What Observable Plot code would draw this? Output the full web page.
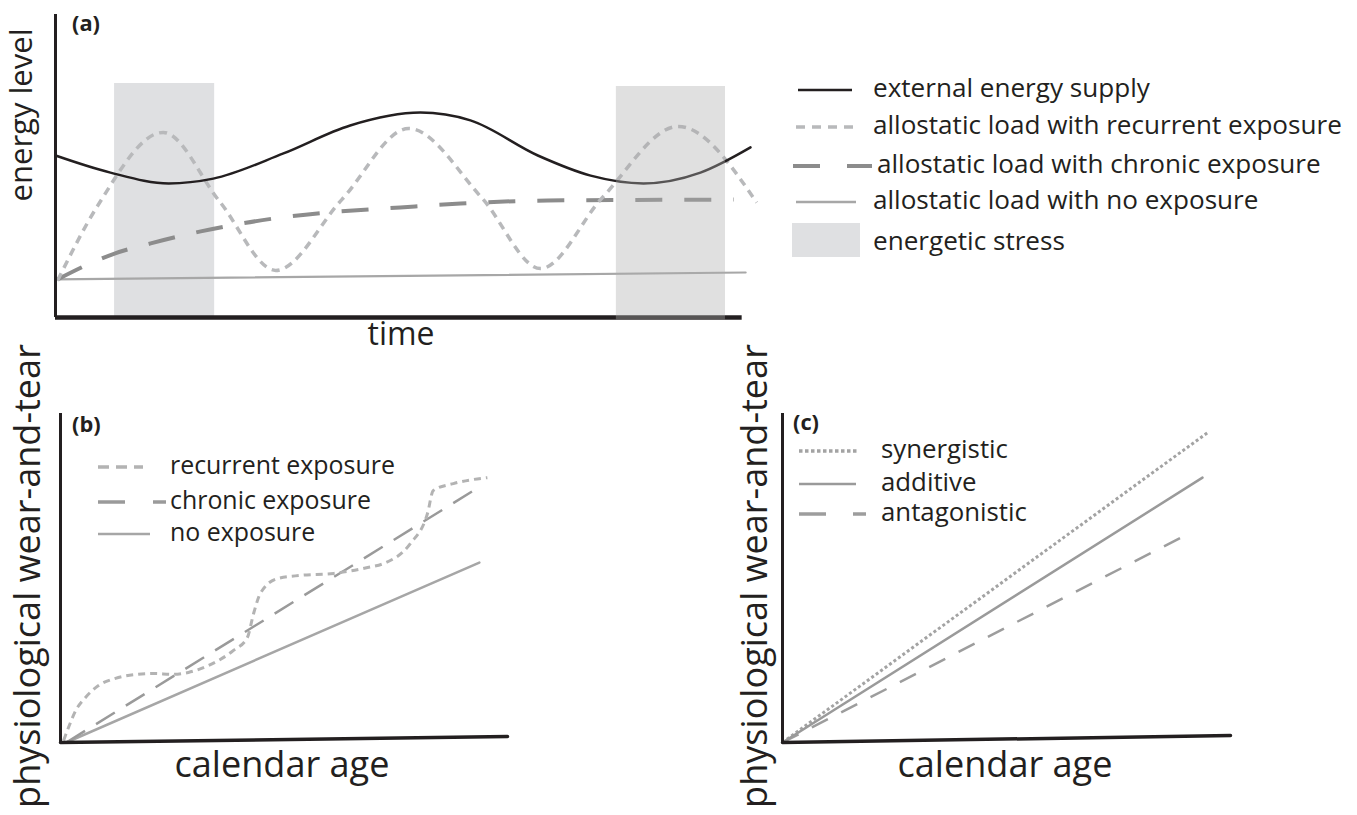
<!DOCTYPE html>
<html><head><meta charset="utf-8">
<script src="https://cdn.jsdelivr.net/npm/d3@7"></script>
<script src="https://cdn.jsdelivr.net/npm/@observablehq/plot@0.6"></script>
<style>
body{margin:0;background:#fff;}
#wrap{position:relative;width:1357px;height:815px;overflow:hidden;background:#fff;}
#wrap svg{position:absolute;left:0;top:0;}
</style></head><body><div id="wrap"></div>
<script>
// ---------- Panel (a): energy level over time (arbitrary units 0-100) ----------
const supplyTime   = [0, 7.9, 16.3, 22.7, 32.8, 42.4, 52.5, 59.7, 69.4, 77, 84.6, 92.8, 100];
const supplyEnergy = [54, 48.3, 44.7, 46.3, 54.7, 64, 68.3, 65.7, 54, 47.3, 44.7, 48.3, 56.7];
const recurrentTime   = [0.3, 6.0, 15.5, 23.6, 31.7, 41.2, 50.8, 61.4, 69.8, 78.7, 89.6, 100.9];
const recurrentEnergy = [12.3, 37, 61.7, 38.7, 15.7, 39.3, 63, 39.7, 16.3, 40, 63.7, 38.3];
const chronicTime   = [0.3, 4.7, 8.5, 13.7, 20.9, 31.4, 39.1, 49.6, 58.3, 70.8, 97.6];
const chronicEnergy = [12.7, 17.7, 21.3, 24.7, 28.7, 33, 35, 36.7, 38, 39, 39.3];
const noExpTime   = [0, 99.3];
const noExpEnergy = [12.7, 15];
const stressStart = [8.5, 80.7];
const stressEnd   = [22.9, 96.4];
const stressTop   = [78, 77];
const axisATimeEnd = 98.8, axisAEnergyTop = 101;

// ---------- Panel (b): wear-and-tear vs calendar age ----------
const recurrentAgeB  = [0.7, 1.8, 3.4, 5.6, 8.5, 12.3, 16.8, 21.3, 24.6, 28.6, 33.1, 38.7, 41.8, 43.2, 44.7, 48.5, 53.7, 61.1, 68.7, 72.3, 78.3, 82.1, 83.4, 87.9, 95.5];
const recurrentWearB = [0.6, 4.6, 9.7, 13.7, 17.3, 19.5, 20.7, 21, 20.7, 21.3, 23.4, 28, 31.9, 39.2, 45.3, 49.8, 50.8, 51.4, 53.2, 54.4, 60.5, 69.6, 76.6, 78.7, 80.5];
const chronicAgeB  = [1.3, 93.5];
const chronicWearB = [0, 77.5];
const noExpAgeB  = [1.3, 93.7];
const noExpWearB = [0, 54.7];
const axisBAge  = [0, 100];
const axisBWear = [0, 1.8];

// ---------- Panel (c): interaction types ----------
const synAge = [0, 94.9],  synWear = [0, 94.2];
const addAge = [0, 93.75], addWear = [0, 80.5];
const antAge = [0, 91.1],  antWear = [0, 63.8];
const axisCAge  = [0, 100];
const axisCWear = [0, 2.1];

// ---------- Labels ----------
const legendA = ["external energy supply", "allostatic load with recurrent exposure", "allostatic load with chronic exposure", "allostatic load with no exposure", "energetic stress"];
const legendB = ["recurrent exposure", "chronic exposure", "no exposure"];
const legendC = ["synergistic", "additive", "antagonistic"];

const W = 1357, H = 815;
const INK = "#231f20";
const pts = (xs, ys) => xs.map((x, i) => ({x, y: ys[i]}));
const stress = stressStart.map((s, i) => ({start: s, end: stressEnd[i], top: stressTop[i]}));
const wrap = document.getElementById("wrap");
const common = {width: W, height: H, x: {domain: [0, 100], axis: null}, y: {domain: [0, 100], axis: null},
  style: {background: "transparent", overflow: "visible"}};
const dashed = (o) => ({x: "x", y: "y", strokeLinecap: "butt", strokeLinejoin: "round", ...o});

const A = Plot.plot({...common,
  marginLeft: 55, marginRight: W - 750, marginTop: 17, marginBottom: H - 317,
  marks: [
    Plot.rect(stress.slice(0, 1), {x1: "start", x2: "end", y1: 0, y2: "top", fill: "#dfe0e2"}),
    Plot.line(pts(noExpTime, noExpEnergy), {x: "x", y: "y", stroke: "#a7a7a7", strokeWidth: 2.2}),
    Plot.line(pts(chronicTime, chronicEnergy), dashed({stroke: "#8c8c8c", strokeWidth: 4, strokeDasharray: "27,22", curve: "monotone-x"})),
    Plot.line(pts(recurrentTime, recurrentEnergy), dashed({stroke: "#b8b9bb", strokeWidth: 3.5, strokeDasharray: "8,6", curve: "monotone-x"})),
    Plot.line(pts(supplyTime, supplyEnergy), {x: "x", y: "y", stroke: INK, strokeWidth: 2.5, curve: "monotone-x"}),
    Plot.ruleX([0], {y1: 0, y2: axisAEnergyTop, stroke: INK, strokeWidth: 3}),
    Plot.ruleY([0], {x1: 0, x2: axisATimeEnd, stroke: INK, strokeWidth: 4.5}),
    Plot.rect(stress.slice(1), {x1: "start", x2: "end", y1: -0.8, y2: "top", fill: "#aeaeae", fillOpacity: 0.38})
  ]
});
wrap.appendChild(A);

const B = Plot.plot({...common,
  marginLeft: 60, marginRight: W - 507, marginTop: 413, marginBottom: H - 742,
  marks: [
    Plot.line(pts(noExpAgeB, noExpWearB), {x: "x", y: "y", stroke: "#a6a6a6", strokeWidth: 2.5}),
    Plot.line(pts(chronicAgeB, chronicWearB), dashed({stroke: "#9a9a9a", strokeWidth: 2.5, strokeDasharray: "22,13"})),
    Plot.line(pts(recurrentAgeB, recurrentWearB), dashed({stroke: "#b3b3b3", strokeWidth: 3, strokeDasharray: "7,5", curve: "monotone-x"})),
    Plot.ruleX([0], {y1: 0, y2: 100, stroke: INK, strokeWidth: 3}),
    Plot.line(pts(axisBAge, axisBWear), {x: "x", y: "y", stroke: INK, strokeWidth: 3.5})
  ]
});
wrap.appendChild(B);

const C = Plot.plot({...common,
  marginLeft: 782, marginRight: W - 1230, marginTop: 413, marginBottom: H - 742,
  marks: [
    Plot.line(pts(antAge, antWear), dashed({stroke: "#9d9d9d", strokeWidth: 2.5, strokeDasharray: "18,15"})),
    Plot.line(pts(synAge, synWear), dashed({stroke: "#a3a3a3", strokeWidth: 3, strokeDasharray: "3,2.5"})),
    Plot.line(pts(addAge, addWear), {x: "x", y: "y", stroke: "#9a9a9a", strokeWidth: 2.5}),
    Plot.ruleX([0], {y1: 0, y2: 100, stroke: INK, strokeWidth: 3}),
    Plot.line(pts(axisCAge, axisCWear), {x: "x", y: "y", stroke: INK, strokeWidth: 3.5})
  ]
});
wrap.appendChild(C);

// ---------- overlay: text and legends ----------
const svg = d3.select(wrap).append("svg").attr("width", W).attr("height", H);
const FONT = '"Open Sans", sans-serif';
function fitSize(str, target, bold) {
  const t = svg.append("text").text(str).attr("font-family", FONT).attr("font-size", 20).attr("font-weight", bold ? 700 : 400);
  const len = t.node().getComputedTextLength();
  t.remove();
  return 20 * target / len;
}
function text(str, x, y, fs, {anchor = "start", rotate = false, bold = false, off = 0.27} = {}) {
  const t = svg.append("text").text(str).attr("font-family", FONT).attr("font-size", fs)
    .attr("font-weight", bold ? 700 : 400).attr("fill", INK).attr("text-anchor", anchor);
  const o = off * fs;
  t.attr("transform", rotate ? `translate(${x + o},${y}) rotate(-90)` : `translate(${x},${y + o})`);
}
function sample(x1, x2, y, stroke, w, dash) {
  const l = svg.append("line").attr("x1", x1).attr("x2", x2).attr("y1", y).attr("y2", y)
    .attr("stroke", stroke).attr("stroke-width", w);
  if (dash) l.attr("stroke-dasharray", dash);
}

// panel letters
const fsLetter = fitSize("(a)", 28, true);
text("(a)", 72, 24, fsLetter, {bold: true, off: 0.33});
text("(b)", 72, 425, fsLetter, {bold: true, off: 0.33});
text("(c)", 793, 423, fsLetter, {bold: true, off: 0.33});

// axis titles
text("energy level", 24, 115, fitSize("energy level", 173), {anchor: "middle", rotate: true});
text("time", 401, 336, fitSize("time", 67), {anchor: "middle"});
const fsAge = fitSize("calendar age", 215);
text("calendar age", 282, 767, fsAge, {anchor: "middle"});
text("calendar age", 1005, 767, fsAge, {anchor: "middle"});
const fsWear = fitSize("physiological wear-and-tear", 464);
text("physiological wear-and-tear", 30, 576, fsWear, {anchor: "middle", rotate: true});
text("physiological wear-and-tear", 757, 576, fsWear, {anchor: "middle", rotate: true});

// legend (a)
const fsA = fitSize(legendA[1], 469);
const ya = [90, 127, 166, 202, 243];
sample(798, 852, ya[0], INK, 2.5);
sample(796, 858, ya[1], "#b8b9bb", 3.5, "9,7");
sample(793, 872, ya[2], "#8c8c8c", 4, "27,27");
sample(796, 856, ya[3], "#a7a7a7", 2.5);
svg.append("rect").attr("x", 792).attr("y", 223).attr("width", 68).attr("height", 34).attr("fill", "#dfe0e2");
legendA.forEach((s, i) => text(s, i === 2 ? 877 : 873, ya[i], fsA));

// legend (b)
const fsB = fitSize(legendB[0], 225);
const yb = [467, 502, 534];
sample(98, 143, yb[0], "#b3b3b3", 3.5, "11,7");
sample(98, 166, yb[1], "#9a9a9a", 3.5, "27,28");
sample(98, 150, yb[2], "#a6a6a6", 2.5);
legendB.forEach((s, i) => text(s, 170, yb[i], fsB));

// legend (c)
const fsC = fitSize(legendC[2], 146);
const yc = [451, 484, 514];
sample(799, 858, yc[0], "#a3a3a3", 3.5, "3.5,2.5");
sample(799, 856, yc[1], "#9a9a9a", 2.5);
sample(799, 866, yc[2], "#9d9d9d", 3.5, "27,27");
legendC.forEach((s, i) => text(s, 881, yc[i], fsC));
</script>
</body></html>
